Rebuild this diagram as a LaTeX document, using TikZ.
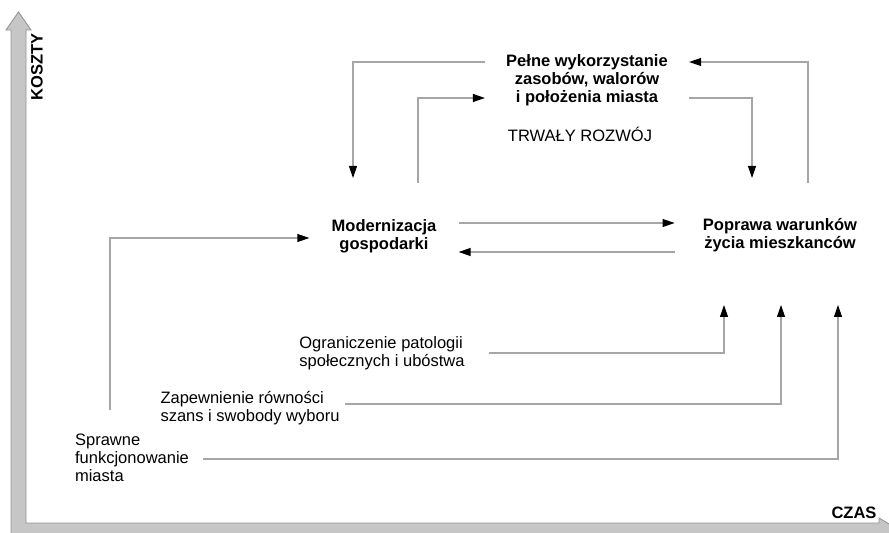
\documentclass[tikz,border=0pt]{standalone}
\usepackage{fontspec}
\setmainfont{Liberation Sans}
\usetikzlibrary{arrows.meta}

\begin{document}
\begin{tikzpicture}[x=0.02cm,y=-0.02cm,
  link/.style={draw=gray!70,line width=0.6pt,-{Triangle[length=0.24cm,width=0.16cm,color=black]}},
  goal/.style={font=\bfseries\fontsize{9.4}{10.2}\selectfont,align=center,text=black},
  cause/.style={font=\fontsize{9.4}{10.2}\selectfont,align=left,text=black},
  axis/.style={fill=gray!45,draw=gray!85,line width=0.5pt}]
  \useasboundingbox (0,0) rectangle (889,533);
  \clip (0,0) rectangle (889,533);
  % axes
  \draw[axis] (11,545) -- (11,30) -- (6,30) -- (18.5,12) -- (31,30) -- (26,30)
    -- (26,523) -- (879,523) -- (879,518) -- (900,530.5) -- (879,543) -- (879,545) -- cycle;
  \node[goal,rotate=90] (koszty) at (37,67) {KOSZTY};
  \node[goal] (czas) at (854,513) {CZAS};
  % main nodes
  \node[goal,inner xsep=0.42cm] (top) at (587,80) {Pełne wykorzystanie\\zasobów, walorów\\i położenia miasta};
  \node[cause] (trwaly) at (580,134) {TRWAŁY ROZWÓJ};
  \node[goal,inner xsep=0.44cm] (mod) at (384,236) {Modernizacja\\gospodarki};
  \node[goal,inner xsep=0.56cm] (pop) at (780,235) {Poprawa warunków\\życia mieszkanców};
  % causes
  \node[cause,inner xsep=0.48cm] (ogr) at (382,353) {Ograniczenie patologii\\społecznych i ubóstwa};
  \node[cause,inner xsep=0.1cm] (zap) at (250,408) {Zapewnienie równości\\szans i swobody wyboru};
  \node[cause,inner xsep=0.28cm] (spr) at (132,458) {Sprawne\\funkcjonowanie\\miasta};
  % free ends
  \coordinate (modin)  at (353,178);
  \coordinate (modout) at (418,183);
  \coordinate (popin)  at (752,178);
  \coordinate (popout) at (808,183);
  \coordinate (popa) at (724,305);
  \coordinate (popb) at (781,305);
  \coordinate (popc) at (838,305);
  \coordinate (sprup) at (110,410);
  % loop round the top
  \draw[link] (top.west |- 0,62) -| (modin);
  \draw[link] (modout) |- (top.west |- 0,98);
  \draw[link] (top.east |- 0,98) -| (popin);
  \draw[link] (popout) |- (top.east |- 0,62);
  % middle
  \draw[link] (mod.east |- 0,223) -- (pop.west |- 0,223);
  \draw[link] (pop.west |- 0,252) -- (mod.east |- 0,252);
  \draw[link] (sprup) |- (mod.west |- 0,238);
  % bottom
  \draw[link] (ogr.east |- 0,353) -| (popa);
  \draw[link] (zap.east |- 0,404) -| (popb);
  \draw[link] (spr.east |- 0,459) -| (popc);
\end{tikzpicture}
\end{document}
